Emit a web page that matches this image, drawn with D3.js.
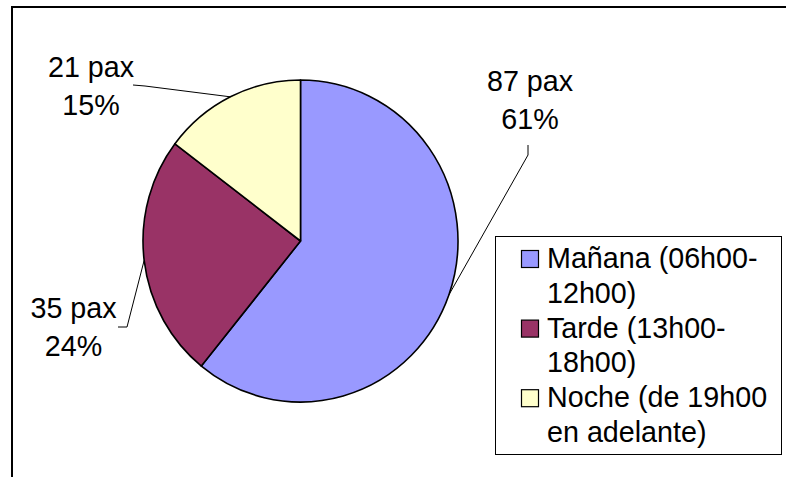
<!DOCTYPE html>
<html>
<head>
<meta charset="utf-8">
<script src="https://cdn.jsdelivr.net/npm/d3@7"></script>
<style>
  html, body { margin: 0; padding: 0; background: #fff; }
  svg { display: block; }
  text { font-family: "Liberation Sans", Arial, sans-serif; fill: #000; }
</style>
</head>
<body>
<svg id="chart" width="786" height="477"></svg>
<script>
// ---- data ----
const categories = ["Mañana (06h00-12h00)", "Tarde (13h00-18h00)", "Noche (de 19h00 en adelante)"];
const legendLines = [["Mañana (06h00-", "12h00)"], ["Tarde (13h00-", "18h00)"], ["Noche (de 19h00", "en adelante)"]];
const values = [87, 35, 21];
const valueLabels = ["87 pax", "35 pax", "21 pax"];
const percentLabels = ["61%", "24%", "15%"];
const colors = ["#9999FF", "#993366", "#FFFFCC"];

// ---- layout ----
const W = 786, H = 477;
const cx = 300.5, cy = 241, R = 161, sx = 157.5 / 161;
const fontSize = 28.7;

const svg = d3.select("#chart");

// outer frame (clipped by window on right/bottom)
svg.append("rect")
  .attr("x", 12).attr("y", 7)
  .attr("width", W + 20).attr("height", H + 20)
  .attr("fill", "none").attr("stroke", "#000").attr("stroke-width", 2);

const pie = d3.pie().sort(null).value(d => d)(values);
const arc = d3.arc().innerRadius(0).outerRadius(R);

const g = svg.append("g").attr("transform", `translate(${cx},${cy}) scale(${sx},1)`);
g.selectAll("path").data(pie).join("path")
  .attr("d", arc)
  .attr("fill", (d, i) => colors[i])
  .attr("stroke", "#000")
  .attr("stroke-width", 1.6)
  .attr("vector-effect", "non-scaling-stroke")
  .attr("stroke-linejoin", "round");

// label layout (positions of text blocks, and the elbow of each leader)
const labelLayout = [
  { x: 530, y1: 91, y2: 129, elbow: [[528, 145], [528, 155]] },
  { x: 73.5, y1: 318, y2: 356, elbow: [[118, 327], [127, 327]] },
  { x: 91, y1: 77, y2: 115, elbow: [[133, 85], [145, 86]] }
];

function edgePoint(d) {
  const a = (d.startAngle + d.endAngle) / 2;
  return [cx + R * sx * Math.sin(a), cy - R * Math.cos(a)];
}

const line = d3.line();
pie.forEach((d, i) => {
  const L = labelLayout[i];
  const pts = L.elbow.concat([edgePoint(d)]);
  svg.append("path")
    .attr("d", line(pts))
    .attr("fill", "none").attr("stroke", "#000").attr("stroke-width", 1);
  svg.append("text").attr("x", L.x).attr("y", L.y1)
    .attr("text-anchor", "middle").attr("font-size", fontSize).text(valueLabels[i]);
  svg.append("text").attr("x", L.x).attr("y", L.y2)
    .attr("text-anchor", "middle").attr("font-size", fontSize).text(percentLabels[i]);
});

// legend
const lg = svg.append("g");
lg.append("rect")
  .attr("x", 495.5).attr("y", 236.5).attr("width", 286).attr("height", 218)
  .attr("fill", "#fff").attr("stroke", "#000").attr("stroke-width", 1);

const baseY = 268, lineH = 34.8;
categories.forEach((c, i) => {
  const y0 = baseY + i * 2 * lineH;
  lg.append("rect")
    .attr("x", 521.5).attr("y", y0 - 17.5).attr("width", 17).attr("height", 17)
    .attr("fill", colors[i]).attr("stroke", "#000").attr("stroke-width", 1.2);
  legendLines[i].forEach((t, j) => {
    lg.append("text").attr("x", 547).attr("y", y0 + j * lineH)
      .attr("font-size", fontSize).text(t);
  });
});
</script>
</body>
</html>
